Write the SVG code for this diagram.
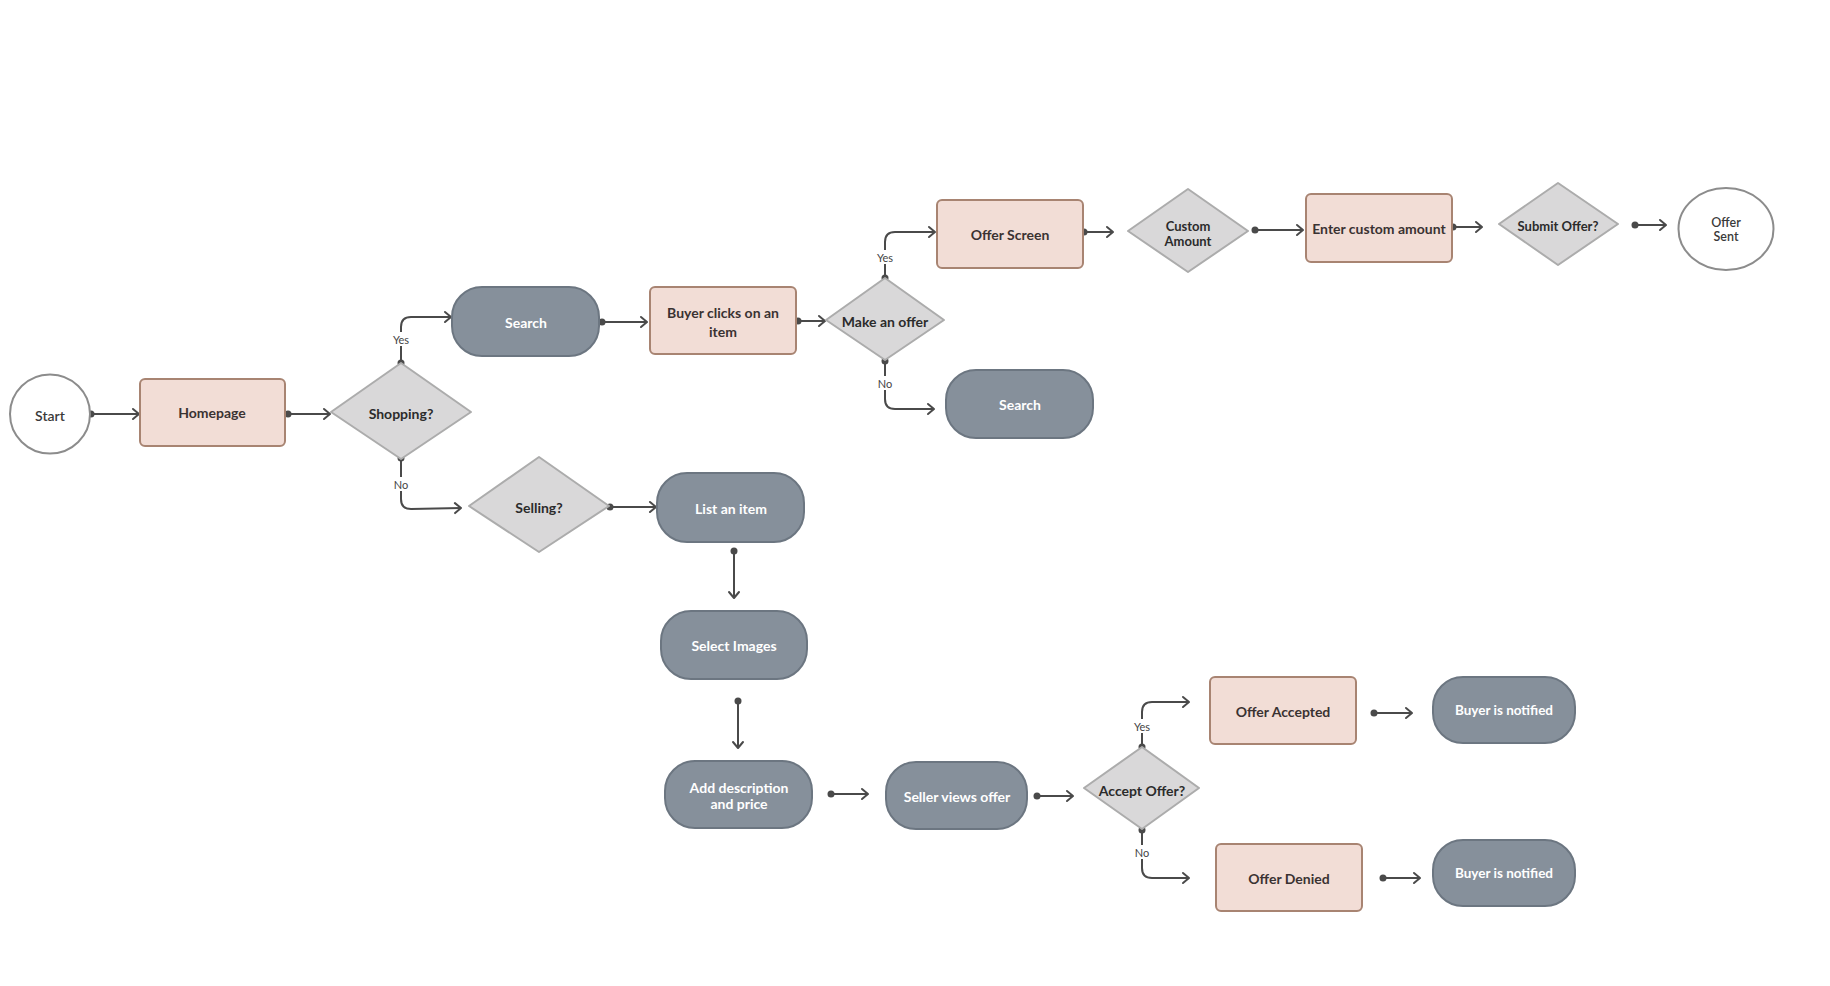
<svg xmlns="http://www.w3.org/2000/svg" width="1830" height="986" viewBox="0 0 1830 986">
<style>
text{font-family:Lato,"Open Sans","Liberation Sans",sans-serif;text-anchor:middle;dominant-baseline:central}
.proc{fill:#f2ddd6;stroke:#a88472;stroke-width:2}
.pill{fill:#86909b;stroke:#6c7681;stroke-width:2}
.dec{fill:#d9d8d9;stroke:#acacac;stroke-width:2;stroke-linejoin:round}
.term{fill:#fff;stroke:#8c8c8c;stroke-width:2}
.t{font-size:14px;font-weight:700;fill:#3a3232}
.tw{font-size:14px;font-weight:700;fill:#fff}
.td{font-size:14px;font-weight:700;fill:#2b2b2b}
.ts{font-size:13px;font-weight:700;fill:#2b2b2b}
.tc{font-size:14px;font-weight:600;fill:#3a3a3a}
.to{font-size:12.5px;font-weight:600;fill:#3a3a3a}
.conn path{fill:none;stroke:#4a4a4a;stroke-width:2;marker-start:url(#dot);marker-end:url(#arr)}
.lbl{font-size:11px;fill:#444}
.lblbg{fill:#fff}
</style>
<defs>
<marker id="arr" markerUnits="userSpaceOnUse" markerWidth="12" markerHeight="14" refX="9" refY="7" orient="auto">
<path d="M3,2 L9,7 L3,12" fill="none" stroke="#4a4a4a" stroke-width="2" stroke-linecap="round" stroke-linejoin="round"/>
</marker>
<marker id="dot" markerUnits="userSpaceOnUse" markerWidth="10" markerHeight="10" refX="5" refY="5" orient="auto">
<circle cx="5" cy="5" r="3.5" fill="#4a4a4a"/>
</marker>
</defs>
<rect width="1830" height="986" fill="#fff"/>

<g class="conn" id="connectors">
<path d="M91,414 L139,414"/>
<path d="M288,414 L330,414"/>
<path d="M401,363 L401,327 Q401,317 411,317 L451,317"/>
<path d="M401,458 L401,499 Q401,509 411,509 L461,508"/>
<path d="M610,507 L656,507"/>
<path d="M602,322 L647,322"/>
<path d="M798,321 L825,321"/>
<path d="M885,278 L885,242 Q885,232 895,232 L935,232"/>
<path d="M885,361 L885,399 Q885,409 895,409 L934,409"/>
<path d="M1084,232 L1113,232"/>
<path d="M1255,230 L1303,230"/>
<path d="M1453,227 L1482,227"/>
<path d="M1635,225 L1666,225"/>
<path d="M734,551 L734,598"/>
<path d="M738,701 L738,748"/>
<path d="M831,794 L868,794"/>
<path d="M1037,796 L1073,796"/>
<path d="M1142,747 L1142,712 Q1142,702 1152,702 L1189,702"/>
<path d="M1142,830 L1142,868 Q1142,878 1152,878 L1189,878"/>
<path d="M1374,713 L1412,713"/>
<path d="M1383,878 L1420,878"/>
</g>
<g id="labels">
<rect class="lblbg" x="390" y="332" width="22" height="14"/><text class="lbl" x="401" y="339">Yes</text>
<rect class="lblbg" x="392" y="477" width="18" height="14"/><text class="lbl" x="401" y="484">No</text>
<rect class="lblbg" x="874" y="250" width="22" height="14"/><text class="lbl" x="885" y="257">Yes</text>
<rect class="lblbg" x="876" y="376" width="18" height="14"/><text class="lbl" x="885" y="383">No</text>
<rect class="lblbg" x="1131" y="719" width="22" height="14"/><text class="lbl" x="1142" y="726">Yes</text>
<rect class="lblbg" x="1133" y="845" width="18" height="14"/><text class="lbl" x="1142" y="852">No</text>
</g>

<g id="start"><ellipse class="term" cx="50" cy="414" rx="40" ry="39.5"/><text class="tc" x="50" y="415">Start</text></g>
<g id="homepage"><rect class="proc" x="140" y="379" width="145" height="67" rx="5"/><text class="t" x="212" y="412">Homepage</text></g>
<g id="shopping"><polygon class="dec" points="401,363 471,412 401,459 331,412"/><text class="td" x="401" y="413">Shopping?</text></g>
<g id="search1"><rect class="pill" x="452" y="287" width="147" height="69" rx="30"/><text class="tw" x="526" y="322">Search</text></g>
<g id="buyer-clicks"><rect class="proc" x="650" y="287" width="146" height="67" rx="5"/><text class="t" x="723" y="312">Buyer clicks on an</text><text class="t" x="723" y="331">item</text></g>
<g id="make-offer"><polygon class="dec" points="885,278 944,320 885,360 826,320"/><text class="td" x="885" y="321">Make an offer</text></g>
<g id="search2"><rect class="pill" x="946" y="370" width="147" height="68" rx="30"/><text class="tw" x="1020" y="404">Search</text></g>
<g id="offer-screen"><rect class="proc" x="937" y="200" width="146" height="68" rx="5"/><text class="t" x="1010" y="234">Offer Screen</text></g>
<g id="custom-amount"><polygon class="dec" points="1188,189 1248,231 1188,272 1128,231"/><text class="ts" x="1188" y="226">Custom</text><text class="ts" x="1188" y="241">Amount</text></g>
<g id="enter-custom"><rect class="proc" x="1306" y="194" width="146" height="68" rx="5"/><text class="t" x="1379" y="228">Enter custom amount</text></g>
<g id="submit-offer"><polygon class="dec" points="1558,183 1618,224 1558,265 1499,224"/><text class="ts" x="1558" y="226">Submit Offer?</text></g>
<g id="offer-sent"><ellipse class="term" cx="1726" cy="229" rx="47.5" ry="41"/><text class="to" x="1726" y="222">Offer</text><text class="to" x="1726" y="236">Sent</text></g>
<g id="selling"><polygon class="dec" points="539,457 609,506 539,552 469,506"/><text class="td" x="539" y="507">Selling?</text></g>
<g id="list-item"><rect class="pill" x="657" y="473" width="147" height="69" rx="30"/><text class="tw" x="731" y="508">List an item</text></g>
<g id="select-images"><rect class="pill" x="661" y="611" width="146" height="68" rx="30"/><text class="tw" x="734" y="645">Select Images</text></g>
<g id="add-description"><rect class="pill" x="665" y="761" width="147" height="67" rx="30"/><text class="tw" x="739" y="787">Add description</text><text class="tw" x="739" y="803">and price</text></g>
<g id="seller-views"><rect class="pill" x="886" y="762" width="141" height="67" rx="30"/><text class="tw" x="957" y="796">Seller views offer</text></g>
<g id="accept-offer"><polygon class="dec" points="1142,747 1199,788 1142,829 1084,788"/><text class="td" x="1142" y="790">Accept Offer?</text></g>
<g id="offer-accepted"><rect class="proc" x="1210" y="677" width="146" height="67" rx="5"/><text class="t" x="1283" y="711">Offer Accepted</text></g>
<g id="offer-denied"><rect class="proc" x="1216" y="844" width="146" height="67" rx="5"/><text class="t" x="1289" y="878">Offer Denied</text></g>
<g id="buyer-notified-1"><rect class="pill" x="1433" y="677" width="142" height="66" rx="30"/><text class="tw" style="font-size:13.5px" x="1504" y="710">Buyer is notified</text></g>
<g id="buyer-notified-2"><rect class="pill" x="1433" y="840" width="142" height="66" rx="30"/><text class="tw" style="font-size:13.5px" x="1504" y="873">Buyer is notified</text></g>
</svg>
